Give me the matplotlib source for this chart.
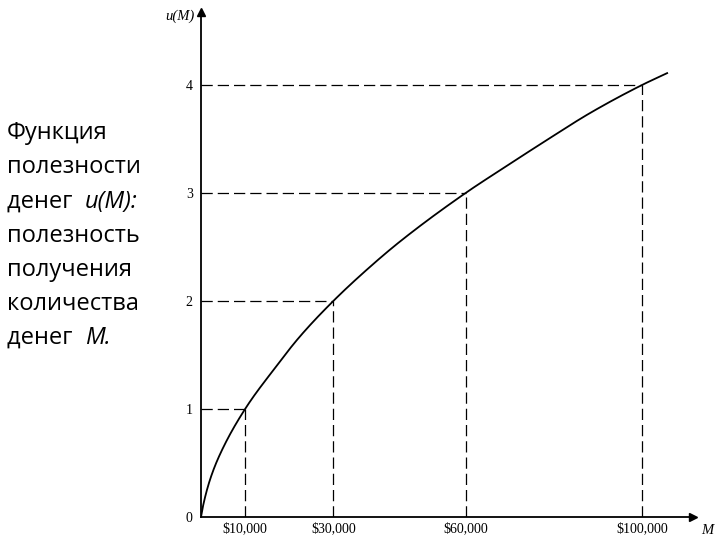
import matplotlib
matplotlib.use("Agg")
import matplotlib.pyplot as plt
import numpy as np

# Data (M in thousands of dollars, u = utility)
curve_m = [0, 0.45, 2.0, 4.3, 10, 16.4, 22.4, 30, 37.6, 45.1, 60, 69.3, 78.4, 88.2, 100, 105.7]
curve_u = [0, 0.10, 0.34, 0.58, 1.0, 1.36, 1.67, 2.0, 2.29, 2.55, 3.0, 3.25, 3.49, 3.74, 4.0, 4.11]
mark_m = [10, 30, 60, 100]
mark_u = [1, 2, 3, 4]
x_labels = ["$10,000", "$30,000", "$60,000", "$100,000"]
y_ticks = [0, 1, 2, 3, 4]


def pchip(x, y, xs):
    x = np.asarray(x, float)
    y = np.asarray(y, float)
    h = np.diff(x)
    delta = np.diff(y) / h
    n = len(x)
    d = np.zeros(n)
    for k in range(1, n - 1):
        if delta[k - 1] * delta[k] > 0:
            w1 = 2 * h[k] + h[k - 1]
            w2 = h[k] + 2 * h[k - 1]
            d[k] = (w1 + w2) / (w1 / delta[k - 1] + w2 / delta[k])
    d[0] = delta[0]
    d[-1] = delta[-1]
    idx = np.clip(np.searchsorted(x, xs) - 1, 0, n - 2)
    t = (xs - x[idx]) / h[idx]
    h00 = 2 * t ** 3 - 3 * t ** 2 + 1
    h10 = t ** 3 - 2 * t ** 2 + t
    h01 = -2 * t ** 3 + 3 * t ** 2
    h11 = t ** 3 - t ** 2
    return (h00 * y[idx] + h10 * h[idx] * d[idx] + h01 * y[idx + 1]
            + h11 * h[idx] * d[idx + 1])


W, H = 720, 540
fig = plt.figure(figsize=(7.2, 5.4), dpi=100)
x0, y0, x1, y1 = 201, 517, 693, 12
ax = fig.add_axes([x0 / W, (H - y0) / H, (x1 - x0) / W, (y0 - y1) / H])
xmax = (x1 - x0) / 4.41
ymax = (y0 - y1) / 108.0
ax.set_xlim(0, xmax)
ax.set_ylim(0, ymax)

mm = np.linspace(0, curve_m[-1], 1500)
uu = pchip(curve_m, curve_u, mm)
ax.plot(mm, uu, color="black", lw=1.3)

for m, u in zip(mark_m, mark_u):
    ax.plot([0, m], [u, u], color="black", lw=0.9, ls=(0, (9, 4)))
    ax.plot([m, m], [0, u], color="black", lw=0.9, ls=(0, (9, 4)))

for s in ["top", "right"]:
    ax.spines[s].set_visible(False)
for s in ["left", "bottom"]:
    ax.spines[s].set_linewidth(1.3)

ax.plot(1, 0, ">k", transform=ax.transAxes, clip_on=False, ms=6)
ax.plot(0, 1, "^k", transform=ax.transAxes, clip_on=False, ms=6)

serif = ["Liberation Serif", "DejaVu Serif"]
ax.set_xticks(mark_m)
ax.set_xticklabels(x_labels, fontfamily=serif, fontsize=10)
ax.set_yticks(y_ticks)
ax.set_yticklabels([str(t) for t in y_ticks], fontfamily=serif, fontsize=10)
ax.tick_params(length=0, pad=4)
ax.tick_params(axis="y", pad=6)

fig.text(180 / W, 1 - 16 / H, "u(M)", fontfamily=serif, style="italic", fontsize=10.5,
         ha="center", va="center")
fig.text(707 / W, 1 - 531 / H, "M", fontfamily=serif, style="italic", fontsize=10.5,
         ha="center", va="center")

lines = [("Функция", None), ("полезности", None), ("денег  ", "u(M):"),
         ("полезность", None), ("получения", None), ("количества", None),
         ("денег  ", "M.")]
sans = ["Open Sans", "DejaVu Sans"]
ys = [133, 167, 202, 236, 270, 304, 338]
fs = 17
for (t, it), yy in zip(lines, ys):
    txt = fig.text(7 / W, 1 - yy / H, t, fontfamily=sans, fontsize=fs, va="center", ha="left")
    if it:
        fig.canvas.draw()
        bb = txt.get_window_extent()
        fig.text(bb.x1 / W, 1 - yy / H, it, fontfamily=sans, fontsize=fs, style="italic",
                 va="center", ha="left")

fig.savefig("out.png", dpi=100)
